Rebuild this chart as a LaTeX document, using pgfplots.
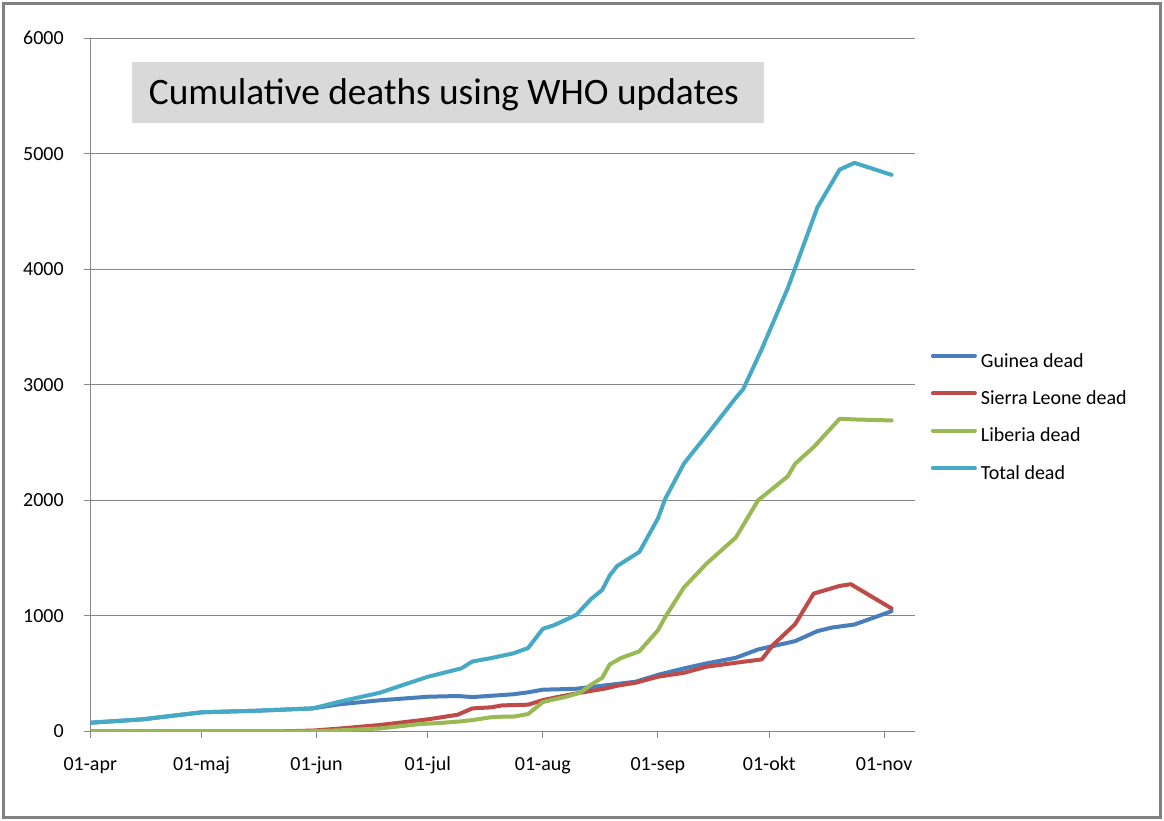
\documentclass[border=0pt]{standalone}
\usepackage{fontspec}
\setmainfont{Carlito}
\usepackage{pgfplots}
\pgfplotsset{compat=1.18}
\definecolor{gblue}{HTML}{4A7EBB}
\definecolor{gred}{HTML}{BE4B48}
\definecolor{ggreen}{HTML}{98B954}
\definecolor{gcyan}{HTML}{46AAC5}
\definecolor{gridc}{HTML}{868686}
\definecolor{framec}{HTML}{808080}
\definecolor{titlebg}{HTML}{D9D9D9}
\begin{document}
\begin{tikzpicture}
\useasboundingbox (0,0) rectangle (873pt,615.75pt);
\fill[white] (0,0) rectangle (873pt,615.75pt);
\begin{axis}[
  at={(67.725pt,67.125pt)}, anchor=south west,
  scale only axis, width=618.5pt, height=519.9pt,
  xmin=0, xmax=222.3, ymin=0, ymax=6000,
  axis lines*=left,
  axis line style={gridc, line width=0.75pt},
  xtick={0,30,61,91,122,153,183,214},
  xticklabels={01-apr,01-maj,01-jun,01-jul,01-aug,01-sep,01-okt,01-nov},
  ytick={0,1000,2000,3000,4000,5000,6000},
  ymajorgrids, grid style={gridc, line width=0.75pt},
  tick align=outside, major tick length=4.7pt,
  tick style={gridc, line width=0.75pt},
  ticklabel style={font=\fontsize{15}{18}\selectfont, black},
  /pgf/number format/assume math mode=true,
  /pgf/number format/1000 sep={},
  yticklabel style={anchor=east, inner sep=0pt, xshift=-15pt},
  xticklabel style={anchor=base, inner sep=0pt, yshift=-24.75pt},
  legend cell align=left,
  legend style={at={(1.019,0.5464)}, anchor=north west, draw=none, fill=none,
    inner sep=0pt, font=\fontsize{15}{18}\selectfont,
    nodes={inner sep=0pt, text height=10.5pt, text depth=3pt},
    row sep=14.6pt},
  legend image code/.code={\draw[#1, line width=3pt, line cap=round] (0pt,4.7pt) -- (31.5pt,4.7pt); \path (0pt,0pt) (34.5pt,0pt);},
  every axis plot/.append style={line width=3pt, line join=round, line cap=round},
]
\addplot[gblue] coordinates {(0,76) (14,105) (30,166) (45,180) (60,200) (67,235) (78,270) (91,301) (99,307) (103,298) (108,309) (114,322) (118,339) (122,362) (126,365) (131,370) (138,396) (147,431) (153,490) (160,546) (166,589) (174,638) (180,710) (184,739) (190,782) (196,869) (200,900) (206,926) (216,1041)};
\addlegendentry{Guinea dead}
\addplot[gred] coordinates {(0,0) (50,0) (60,8) (67,25) (78,56) (91,105) (99,145) (103,200) (108,209) (111,226) (118,232) (122,272) (127,305) (132,335) (139,373) (142,396) (147,422) (153,474) (160,508) (166,560) (174,595) (181,624) (184,748) (190,929) (195,1194) (202,1260) (205,1275) (216,1065)};
\addlegendentry{Sierra Leone dead}
\addplot[ggreen] coordinates {(0,0) (55,0) (60,2) (67,10) (78,26) (89,65) (94,73) (100,88) (103,99) (108,123) (111,128) (114,128) (118,151) (122,255) (125,278) (128,298) (132,335) (135,405) (138,465) (140,580) (143,635) (148,694) (153,875) (155,992) (160,1246) (166,1450) (174,1679) (180,2001) (188,2208) (190,2318) (195,2462) (202,2707) (206,2701) (216,2692)};
\addlegendentry{Liberia dead}
\addplot[gcyan] coordinates {(0,76) (14,105) (30,166) (45,180) (60,200) (67,257) (78,335) (91,474) (100,546) (103,606) (108,635) (114,676) (118,722) (122,889) (125,920) (128,964) (131,1010) (135,1147) (138,1226) (140,1350) (142,1432) (148,1554) (153,1843) (155,2015) (160,2318) (163,2440) (166,2560) (174,2888) (176,2963) (181,3310) (188,3836) (196,4537) (202,4864) (206,4922) (216,4818)};
\addlegendentry{Total dead}
\end{axis}
\fill[titlebg] (99pt,523.5pt) rectangle (573pt,569.25pt);
\node[anchor=base west, inner sep=0pt, font=\fontsize{28}{32}\selectfont] at (111.5pt,537pt) {Cumulative deaths using WHO updates};
\draw[framec, line width=2.5pt] (2.5pt,2.5pt) rectangle (870.5pt,613.25pt);
\end{tikzpicture}
\end{document}
